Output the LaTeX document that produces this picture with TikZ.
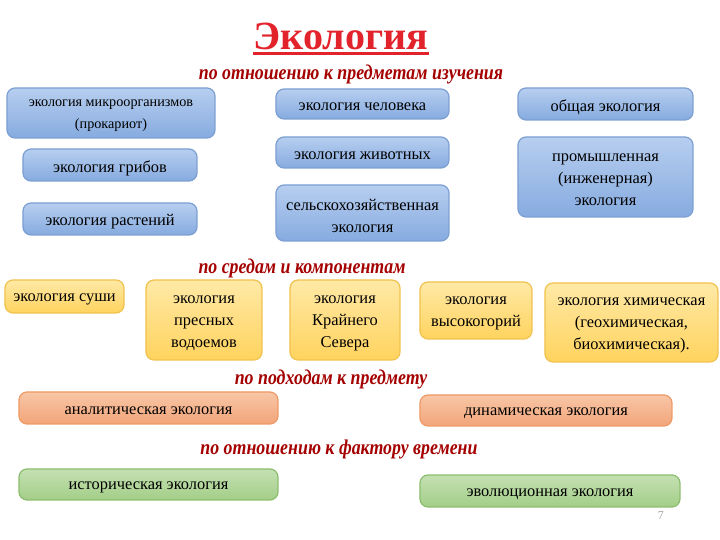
\documentclass[tikz,border=0pt]{standalone}
\usepackage{fontspec}
\setmainfont{Liberation Serif}[FakeStretch=1.0]
\newfontfamily\hdfont[FakeStretch=0.85]{Liberation Serif}
\definecolor{bluetop}{HTML}{B7CEEF}
\definecolor{bluebot}{HTML}{86ABE0}
\definecolor{blueline}{HTML}{7C9FD2}
\definecolor{ylwtop}{HTML}{FFE9A6}
\definecolor{ylwbot}{HTML}{FFD35E}
\definecolor{ylwline}{HTML}{F0C24E}
\definecolor{saltop}{HTML}{F8C6A6}
\definecolor{salbot}{HTML}{F2A57A}
\definecolor{salline}{HTML}{EE9A66}
\definecolor{grntop}{HTML}{C4E0B2}
\definecolor{grnbot}{HTML}{A3CE88}
\definecolor{grnline}{HTML}{8CBD6E}
\definecolor{ttlred}{HTML}{E3232B}
\definecolor{hdred}{HTML}{A50000}
\tikzset{
  eco/.style={rounded corners=4pt, line width=0.6pt},
  blu/.style={eco, draw=blueline, top color=bluetop, bottom color=bluebot},
  ylw/.style={eco, draw=ylwline, top color=ylwtop, bottom color=ylwbot},
  sal/.style={eco, draw=salline, top color=saltop, bottom color=salbot},
  grn/.style={eco, draw=grnline, top color=grntop, bottom color=grnbot},
  ecotxt/.style={align=center, inner sep=0pt, font=\rmfamily\fontsize{8.2}{11}\selectfont},
  hd/.style={text=hdred, font=\hdfont\bfseries\itshape\fontsize{10.5}{12}\selectfont}
}
\newcommand{\eco}[7]{
\node[#1,minimum width=#5*0.5pt,minimum height=#6*0.5pt] (#2) at (#3,#4) {};
\node[ecotxt] (#2-t) at ([yshift=-1.5pt]#2.center) {#7};}

\begin{document}
\begin{tikzpicture}[x=0.5pt,y=-0.5pt]
\useasboundingbox (0,0) rectangle (720,540);
% title
\node[text=ttlred, inner sep=0pt, font=\rmfamily\bfseries\fontsize{20}{22}\selectfont] (ttl) at (341,36) {Экология};
\draw[ttlred, line width=1.5pt] ([yshift=-2.2pt]ttl.base west) -- ([yshift=-2.2pt]ttl.base east);
% по отношению к предметам изучения
\node[hd] (hd1) at (351,74) {по отношению к предметам изучения};
\eco{blu}{micro}{111}{113}{208}{50}{{\fontsize{7.1}{10}\selectfont экология микроорганизмов}\\{\fontsize{7.1}{10}\selectfont (прокариот)}}
\eco{blu}{fungi}{110}{165}{174}{32}{экология грибов}
\eco{blu}{plant}{110}{219}{174}{32}{экология растений}
\eco{blu}{human}{362.5}{104}{173}{30}{экология человека}
\eco{blu}{animal}{362.5}{152.5}{173}{31}{экология животных}
\eco{blu}{agro}{362.5}{213}{173}{56}{сельскохозяйственная\\экология}
\eco{blu}{general}{605.5}{104}{175}{32}{общая экология}
\eco{blu}{indus}{605.5}{177}{175}{80}{промышленная\\(инженерная)\\экология}
% по средам и компонентам
\node[hd] (hd2) at (302,268) {по средам и компонентам};
\eco{ylw}{land}{64.5}{296.5}{119}{33}{экология суши}
\eco{ylw}{fresh}{204}{320}{116}{80}{экология\\пресных\\водоемов}
\eco{ylw}{north}{345}{320}{110}{80}{экология\\Крайнего\\Севера}
\eco{ylw}{mount}{476}{310.5}{112}{57}{экология\\высокогорий}
\eco{ylw}{chem}{631.5}{322.5}{173}{79}{экология химическая\\(геохимическая,\\биохимическая).}
% по подходам к предмету
\node[hd] (hd3) at (331,379) {по подходам к предмету};
\eco{sal}{anal}{148.5}{408}{259}{32}{аналитическая экология}
\eco{sal}{dyn}{546}{410.5}{252}{31}{динамическая экология}
% по отношению к фактору времени
\node[hd] (hd4) at (339,449) {по отношению к фактору времени};
\eco{grn}{hist}{148.5}{484.5}{259}{31}{историческая экология}
\eco{grn}{evol}{550}{491}{260}{32}{эволюционная экология}
\node[text=gray!70, font=\fontsize{6}{7}\selectfont] (pg) at (661,516) {7};
\end{tikzpicture}
\end{document}
